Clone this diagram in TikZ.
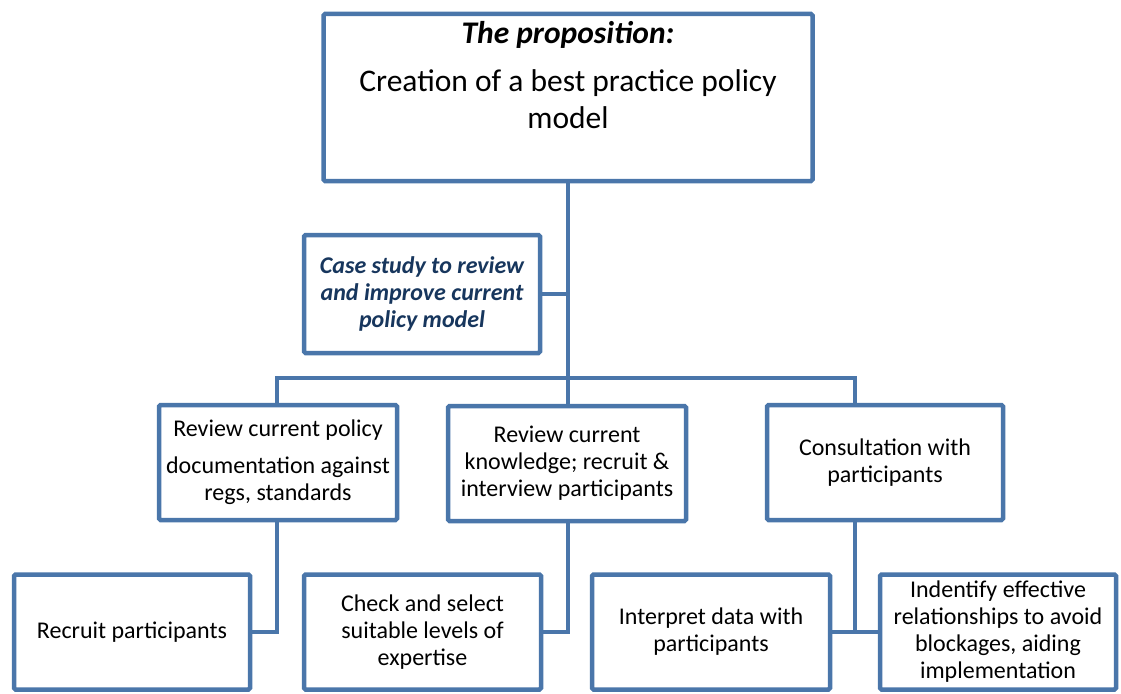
\documentclass[tikz,border=0pt]{standalone}
\usepackage{fontspec}
\setmainfont{Carlito}
\definecolor{boxblue}{RGB}{74,118,170}
\definecolor{navy}{RGB}{23,54,93}

\begin{document}
\begin{tikzpicture}[x=1pt, y=-1pt,
    box/.style={rectangle, draw=boxblue, line width=4.5pt, rounded corners=1.5pt,
        fill=white, align=center, inner sep=0pt,
        font=\fontsize{24}{27}\selectfont},
    link/.style={draw=boxblue, line width=4.5pt}
]
    \useasboundingbox (0,0) rectangle (1121,693);
    % top
    \node[box, minimum width=489pt, minimum height=167pt] (prop) at (568,97.5)
        {\parbox[c][153pt][t]{470pt}{\centering\fontsize{31.5}{37}\selectfont
        \textbf{\textit{The proposition:}}\\[11pt]
        Creation of a best practice policy\\ model}};
    \node[box, text=navy, font=\fontsize{24}{27}\selectfont\bfseries\itshape,
        minimum width=236pt, minimum height=118pt] (case) at (422,294)
        {Case study to review\\ and improve current\\ policy model};
    % second row
    \node[box, minimum width=238pt, minimum height=115pt] (rev) at (278,462.5)
        {Review current policy\\[10pt] documentation against\\ regs, standards};
    \node[box, minimum width=238pt, minimum height=115pt] (know) at (567,463.5)
        {Review current\\ knowledge; recruit \&\\ interview participants};
    \node[box, minimum width=236pt, minimum height=115pt] (consult) at (885,462.5)
        {Consultation with\\ participants};
    % third row
    \node[box, minimum width=236pt, minimum height=115pt] (recruit) at (132,632)
        {Recruit participants};
    \node[box, minimum width=237pt, minimum height=115pt] (check) at (422.5,632)
        {Check and select\\ suitable levels of\\ expertise};
    \node[box, minimum width=238pt, minimum height=115pt] (interp) at (711,632)
        {Interpret data with\\ participants};
    \node[box, minimum width=236pt, minimum height=115pt] (ident) at (998,632)
        {Indentify effective\\ relationships to avoid\\ blockages, aiding\\ implementation};
    % connectors
    \coordinate (busL) at (277,378);
    \coordinate (busR) at (855,378);
    \draw[link] (prop.south) -- (prop.south |- know.north);
    \draw[link] (case.east) -- (case.east -| prop.south);
    \draw[link] (busL |- rev.north) -- (busL) -- (busR) -- (busR |- consult.north);
    \draw[link] (busL |- rev.south) |- (recruit.east);
    \draw[link] (prop.south |- know.south) |- (check.east);
    \draw[link] (busR |- consult.south) -- (busR |- interp.east);
    \draw[link] (interp.east) -- (ident.west);
\end{tikzpicture}
\end{document}
